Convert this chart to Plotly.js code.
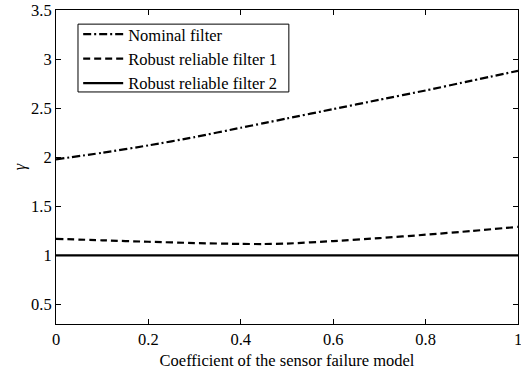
<!DOCTYPE html>
<html><head><meta charset="utf-8">
<script src="https://cdn.plot.ly/plotly-3.0.1.min.js"></script>
<style>html,body{margin:0;padding:0;background:#fff}#c{width:521px;height:373px}</style>
</head><body><div id="c"></div>
<script>
const xVals = [0, 0.1, 0.2, 0.3, 0.4, 0.45, 0.5, 0.6, 0.7, 0.8, 0.9, 1.0];
const nominal = [1.978, 2.045, 2.12, 2.205, 2.30, 2.347, 2.395, 2.49, 2.585, 2.68, 2.78, 2.88];
const robust1 = [1.168, 1.153, 1.138, 1.125, 1.116, 1.115, 1.12, 1.145, 1.175, 1.21, 1.248, 1.29];
const robust2 = [1, 1, 1, 1, 1, 1, 1, 1, 1, 1, 1, 1];
const names = ["Nominal filter", "Robust reliable filter 1", "Robust reliable filter 2"];
const xTicks = [0, 0.2, 0.4, 0.6, 0.8, 1];
const xTickText = ["0", "0.2", "0.4", "0.6", "0.8", "1"];
const yTicks = [0.5, 1, 1.5, 2, 2.5, 3, 3.5];
const yTickText = ["0.5", "1", "1.5", "2", "2.5", "3", "3.5"];

const font = {family: "Liberation Serif, Times New Roman, serif", size: 16.5, color: "#000"};
const traces = [
  {x: xVals, y: nominal, name: names[0], mode: "lines", line: {color: "#000", width: 2.2, dash: "8px,3px,2px,3px", shape: "spline", smoothing: 0.6}},
  {x: xVals, y: robust1, name: names[1], mode: "lines", line: {color: "#000", width: 2.2, dash: "7px,4px", shape: "spline", smoothing: 0.6}},
  {x: xVals, y: robust2, name: names[2], mode: "lines", line: {color: "#000", width: 2.2}}
];
const axisCommon = {showline: true, linecolor: "#000", linewidth: 1, mirror: "ticks", ticks: "inside", ticklen: 5, tickcolor: "#000", showgrid: false, zeroline: false, tickfont: font, ticklabeloverflow: "allow"};
const layout = {
  width: 521, height: 373,
  margin: {l: 56, r: 3, t: 10, b: 49},
  paper_bgcolor: "#fff", plot_bgcolor: "#fff",
  font: font,
  showlegend: true,
  legend: {x: 0.048, y: 0.978, xanchor: "left", yanchor: "top", bgcolor: "rgba(0,0,0,0)", borderwidth: 0, font: font, tracegroupgap: 0, itemwidth: 40},
  shapes: [{type: "rect", xref: "paper", yref: "paper", x0: 0.0476, x1: 0.504, y0: 0.739, y1: 0.955, line: {color: "#000", width: 1}, fillcolor: "rgba(0,0,0,0)", layer: "above"}],
  xaxis: Object.assign({}, axisCommon, {range: [0, 1], tickvals: xTicks, ticktext: xTickText, title: {text: "Coefficient of the sensor failure model", font: font, standoff: 6}}),
  yaxis: Object.assign({}, axisCommon, {range: [0.3, 3.5], tickvals: yTicks, ticktext: yTickText, title: {text: "<i>γ</i>", font: font, standoff: 1}})
};
Plotly.newPlot("c", traces, layout, {displayModeBar: false, staticPlot: true});
</script></body></html>
